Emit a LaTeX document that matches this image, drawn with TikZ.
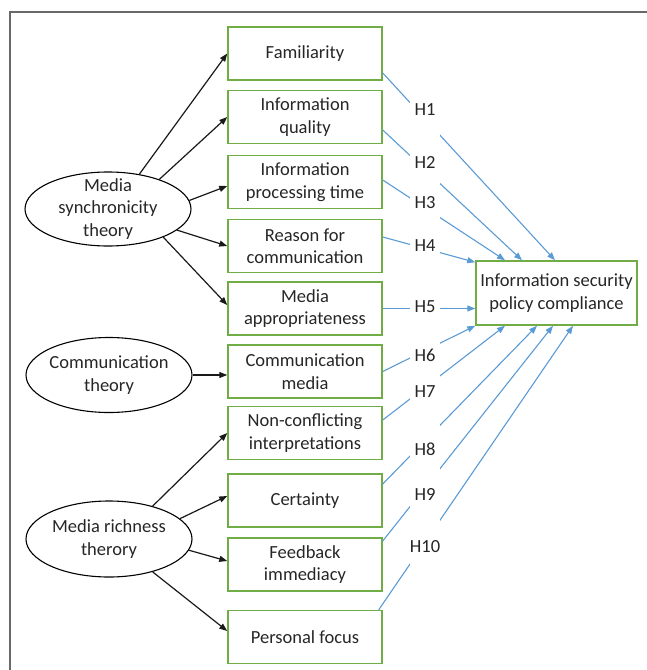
\documentclass[tikz,border=0pt]{standalone}
\usepackage{fontspec}
\setmainfont{Carlito}
\usetikzlibrary{arrows.meta,shapes.geometric}
\definecolor{boxgreen}{RGB}{112,173,71}
\definecolor{hblue}{RGB}{91,155,213}
\definecolor{framegray}{RGB}{105,105,105}
\definecolor{txt}{RGB}{38,38,38}
\begin{document}
\begin{tikzpicture}[x=1pt,y=-1pt,
  every node/.style={font=\fontsize{18.5}{22.5}\selectfont, text=txt},
  factor/.style={draw=boxgreen, line width=1.5pt, minimum width=154pt, minimum height=53pt, align=center, inner sep=2pt},
  theory/.style={draw=black, ellipse, line width=1.1pt, minimum width=166pt, minimum height=75pt, inner sep=0pt},
  arr/.style={draw=black!90, line width=1.2pt, -{Triangle[length=8pt,width=6pt]}},
  harr/.style={draw=hblue, line width=1.1pt, -{Triangle[length=8pt,width=6pt]}},
  hlab/.style={fill=white, minimum width=30pt, minimum height=56pt, inner sep=0pt}]
\useasboundingbox (0,0) rectangle (647,670);
\draw[framegray, line width=1.6pt] (10,670) -- (10,12) -- (647,12);

\node[factor] (fam) at (305,53.5) {Familiarity};
\node[factor] (iq) at (305,117) {Information\\quality};
\node[factor] (ipt) at (305,182) {Information\\processing time};
\node[factor] (rc) at (305,246) {Reason for\\communication};
\node[factor] (ma) at (305,308.5) {Media\\appropriateness};
\node[factor] (cm) at (305,371.5) {Communication\\media};
\node[factor] (nci) at (305,433) {Non-conflicting\\interpretations};
\node[factor] (cert) at (305,500.5) {Certainty};
\node[factor] (fi) at (305,564.5) {Feedback\\immediacy};
\node[factor] (pf) at (305,637) {Personal focus};
\node[factor, minimum width=161pt, minimum height=64pt] (ispc) at (556.5,293) {Information security\\policy compliance};

\node[theory, minimum height=74pt, label={[align=center]center:Media\\synchronicity\\theory}] (mst) at (108,209) {};
\node[theory, label={[align=center]center:Communication\\theory}] (ct) at (109,375) {};
\node[theory, minimum height=76pt, label={[align=center]center:Media richness\\therory}] (mrt) at (109,539) {};

\draw[arr] (mst.48) -- (fam.west);
\draw[arr] (mst.30) -- (iq.west);
\draw[arr] (mst.6) -- ([yshift=-4pt]ipt.west);
\draw[arr] (mst.-17) -- (rc.west);
\draw[arr] (mst.-27) -- ([yshift=3.5pt]ma.west);
\draw[arr] (ct.east) -- (ct.east -| cm.west);
\draw[arr] (mrt.37) -- (nci.west);
\draw[arr] (mrt.16) -- ([yshift=4.5pt]cert.west);
\draw[arr] (mrt.-8) -- ([yshift=3.5pt]fi.west);
\draw[arr] (mrt.-37) -- ([yshift=6pt]pf.west);

\draw[harr] ([yshift=-19.5pt]fam.east) -- ([xshift=-1.5pt]ispc.north);
\draw[harr] ([yshift=-13pt]iq.east) -- ([xshift=-34.5pt]ispc.north);
\draw[harr] ([yshift=2pt]ipt.east) -- ([xshift=-51.5pt]ispc.north);
\draw[harr] ([yshift=9pt]rc.east) -- ([yshift=-2pt]ispc.north west);
\draw[harr] (ma.east) -- (ma.east -| ispc.west);
\draw[harr] (cm.east) -- (ispc.south west);
\draw[harr] ([yshift=13pt]nci.east) -- ([xshift=-51.5pt]ispc.south);
\draw[harr] ([yshift=16.5pt]cert.east) -- ([xshift=-19.5pt]ispc.south);
\draw[harr] ([yshift=23.5pt]fi.east) -- ([xshift=-3.5pt]ispc.south);
\draw[harr] ([xshift=-4pt]pf.north east) -- ([xshift=16.5pt]ispc.south);

\node[hlab] (h1) at (425,110) {H1};
\node[hlab] (h2) at (425,162) {H2};
\node[hlab] (h3) at (425,203) {H3};
\node[hlab] (h4) at (425,246) {H4};
\node[hlab] (h5) at (425,307) {H5};
\node[hlab] (h6) at (425,355) {H6};
\node[hlab] (h7) at (425,392) {H7};
\node[hlab] (h8) at (425,449) {H8};
\node[hlab] (h9) at (425,494) {H9};
\node[hlab] (h10) at (425,547) {H10};
\end{tikzpicture}
\end{document}
